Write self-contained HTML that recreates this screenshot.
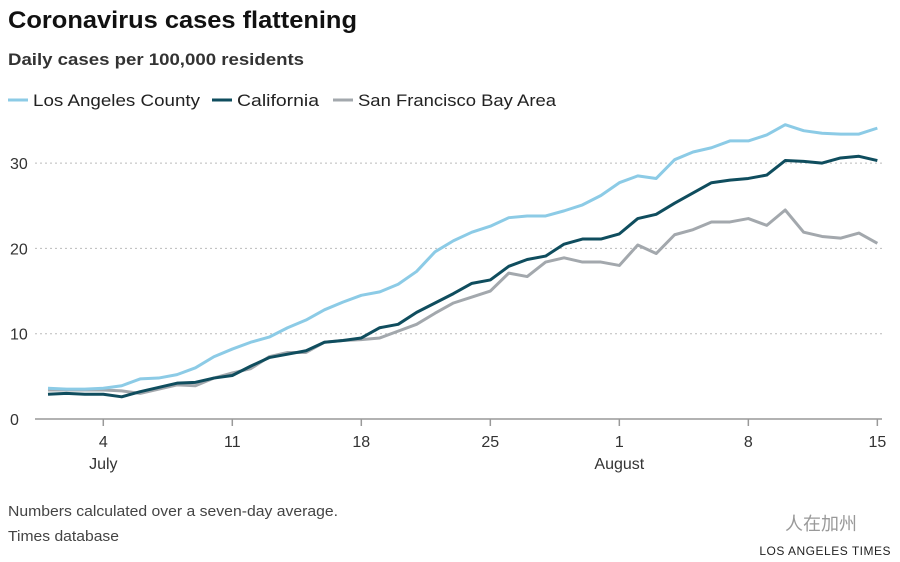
<!DOCTYPE html>
<html><head><meta charset="utf-8"><style>
body{margin:0;background:#fff;width:900px;height:562px;overflow:hidden;font-family:"Liberation Sans","Noto Sans CJK SC",sans-serif;}
svg{position:absolute;left:0;top:0}
</style></head><body>
<svg width="900" height="562">
<text x="8" y="28" font-size="24" font-weight="bold" fill="#111" textLength="349" lengthAdjust="spacingAndGlyphs">Coronavirus cases flattening</text>
<text x="8" y="65" font-size="17" font-weight="bold" fill="#333" textLength="296" lengthAdjust="spacingAndGlyphs">Daily cases per 100,000 residents</text>
<g font-size="17" fill="#222">
<g><line x1="8" y1="100" x2="28" y2="100" stroke="#8ccbe6" stroke-width="3"/><text x="33" y="106" textLength="167" lengthAdjust="spacingAndGlyphs">Los Angeles County</text></g>
<g><line x1="212" y1="100" x2="232" y2="100" stroke="#0f4d5e" stroke-width="3"/><text x="237" y="106" textLength="82" lengthAdjust="spacingAndGlyphs">California</text></g>
<g><line x1="333" y1="100" x2="353" y2="100" stroke="#a3a8ad" stroke-width="3"/><text x="358" y="106" textLength="198" lengthAdjust="spacingAndGlyphs">San Francisco Bay Area</text></g>
</g>
<g id="grid"></g>
<g id="series"></g>
<g id="xaxis"></g>
<text x="8" y="516" font-size="15" fill="#444" textLength="330" lengthAdjust="spacingAndGlyphs">Numbers calculated over a seven-day average.</text>
<text x="8" y="541" font-size="15" fill="#444" textLength="111" lengthAdjust="spacingAndGlyphs">Times database</text>
<text x="785" y="530" font-size="18" fill="#999">人在加州</text>
<text x="891" y="555" font-size="12" fill="#222" text-anchor="end" letter-spacing="0.5">LOS ANGELES TIMES</text>
</svg>
<script>
const laValues=[3.6,3.5,3.5,3.6,3.9,4.7,4.8,5.2,6.0,7.3,8.2,9.0,9.6,10.7,11.6,12.8,13.7,14.5,14.9,15.8,17.3,19.6,20.9,21.9,22.6,23.6,23.8,23.8,24.4,25.1,26.2,27.7,28.5,28.2,30.4,31.3,31.8,32.6,32.6,33.3,34.5,33.8,33.5,33.4,33.4,34.1];
const caValues=[2.9,3.0,2.9,2.9,2.6,3.2,3.7,4.2,4.3,4.8,5.1,6.2,7.2,7.6,8.0,9.0,9.2,9.5,10.7,11.1,12.5,13.6,14.7,15.9,16.3,17.9,18.7,19.1,20.5,21.1,21.1,21.7,23.5,24.0,25.3,26.5,27.7,28.0,28.2,28.6,30.3,30.2,30.0,30.6,30.8,30.3];
const sfValues=[3.4,3.4,3.4,3.4,3.3,3.0,3.5,4.0,3.9,4.8,5.4,5.9,7.3,7.8,7.8,9.0,9.2,9.3,9.5,10.3,11.1,12.4,13.6,14.3,15.0,17.1,16.7,18.4,18.9,18.4,18.4,18.0,20.4,19.4,21.6,22.2,23.1,23.1,23.5,22.7,24.5,21.9,21.4,21.2,21.8,20.6];
const yTicks=[0,10,20,30];
const xTickDays=[3,10,17,24,31,38,45];
const xTickLabels=["4","11","18","25","1","8","15"];
const monthLabels=[{day:3,label:"July"},{day:31,label:"August"}];
const NS="http://www.w3.org/2000/svg";
const xS=d=>48+d*18.43, yS=v=>419-v*8.53;
function mk(tag,attrs,parent,text){const e=document.createElementNS(NS,tag);for(const k in attrs)e.setAttribute(k,attrs[k]);if(text!=null)e.textContent=text;parent.appendChild(e);return e;}
const grid=document.getElementById('grid');
yTicks.forEach(t=>{
  const l=mk('line',{x1:35,x2:882,y1:yS(t),y2:yS(t),stroke:t===0?'#999':'#bbb','stroke-width':t===0?1.5:1,'stroke-dasharray':t===0?'':'2,3'},grid);
  
  
  const tx=mk('text',{x:10,y:yS(t)+6,'font-size':16,fill:'#333'},grid,String(t));
  
  
});
const xa=document.getElementById('xaxis');
xTickDays.forEach((d,i)=>{
  const l=mk('line',{x1:xS(d),x2:xS(d),y1:419,y2:426,stroke:'#999','stroke-width':1.5},xa);
  
  
  const t=mk('text',{x:xS(d),y:447,'font-size':16,fill:'#333','text-anchor':'middle'},xa,xTickLabels[i]);
  
  
});
monthLabels.forEach(m=>{
  const t=mk('text',{x:xS(m.day),y:469,'font-size':16,fill:'#333','text-anchor':'middle'},xa,m.label);
  
  
});
const sg=document.getElementById('series');
[[sfValues,'#a3a8ad','sf-line'],[caValues,'#0f4d5e','ca-line'],[laValues,'#8ccbe6','la-line']].forEach(([vals,c,n])=>{
  const p=mk('polyline',{points:vals.map((v,i)=>xS(i)+','+yS(v)).join(' '),fill:'none',stroke:c,'stroke-width':3,'stroke-linejoin':'round'},sg);
  
  
});
</script>
</body></html>
